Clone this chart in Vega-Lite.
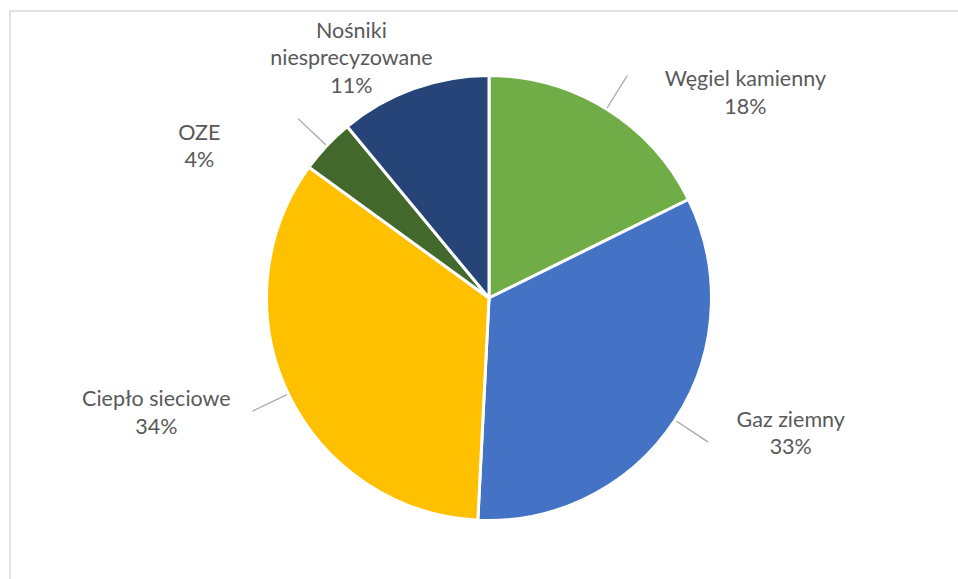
{
  "$schema": "https://vega.github.io/schema/vega-lite/v6.json",
  "width": 951,
  "height": 571,
  "padding": {"left": 10, "top": 11, "right": -3, "bottom": -3},
  "autosize": {"type": "none"},
  "background": "white",
  "view": {"stroke": "#D9D9D9", "strokeWidth": 1.5, "fill": "white"},
  "data": {
    "values": [
      {"category": "Węgiel kamienny", "share": 17.7, "rank": 1, "label": "Węgiel kamienny\n18%"},
      {"category": "Gaz ziemny", "share": 33.1, "rank": 2, "label": "Gaz ziemny\n33%"},
      {"category": "Ciepło sieciowe", "share": 34.2, "rank": 3, "label": "Ciepło sieciowe\n34%"},
      {"category": "OZE", "share": 4.0, "rank": 4, "label": "OZE\n4%"},
      {"category": "Nośniki niesprecyzowane", "share": 11.0, "rank": 5, "label": "Nośniki\nniesprecyzowane\n11%"}
    ]
  },
  "encoding": {
    "theta": {"field": "share", "type": "quantitative", "stack": true},
    "order": {"field": "rank", "type": "quantitative"},
    "detail": {"field": "category", "type": "nominal"}
  },
  "layer": [
    {
      "mark": {"type": "arc", "outerRadius": 222.5, "stroke": "white", "strokeWidth": 3, "xOffset": 3.5, "yOffset": 1.5},
      "encoding": {
        "color": {
          "field": "category",
          "type": "nominal",
          "scale": {
            "domain": ["Węgiel kamienny", "Gaz ziemny", "Ciepło sieciowe", "OZE", "Nośniki niesprecyzowane"],
            "range": ["#70AD47", "#4472C4", "#FFC000", "#43682B", "#264478"]
          },
          "legend": null
        }
      }
    },
    {
      "mark": {"type": "arc", "innerRadius": 224, "outerRadius": 262, "padAngle": 3.14, "filled": false, "stroke": "#A6A6A6", "strokeWidth": 1.3, "xOffset": 3.5, "yOffset": 1.5},
      "encoding": {
        "strokeOpacity": {"condition": {"test": "datum.category === 'Nośniki niesprecyzowane'", "value": 0}, "value": 1}
      }
    },
    {
      "mark": {"type": "text", "radius": 300, "dx": 98, "dy": 43, "align": "center", "baseline": "alphabetic", "font": "Lato", "fontSize": 21.5, "lineHeight": 27.5, "lineBreak": "\n", "fill": "#595959", "xOffset": 3.5, "yOffset": 1.5},
      "encoding": {"text": {"condition": {"test": "datum.category === 'Węgiel kamienny'", "field": "label", "type": "nominal"}, "value": ""}}
    },
    {
      "mark": {"type": "text", "radius": 300, "dx": 51, "dy": -36, "align": "center", "baseline": "alphabetic", "font": "Lato", "fontSize": 21.5, "lineHeight": 27.5, "lineBreak": "\n", "fill": "#595959", "xOffset": 3.5, "yOffset": 1.5},
      "encoding": {"text": {"condition": {"test": "datum.category === 'Gaz ziemny'", "field": "label", "type": "nominal"}, "value": ""}}
    },
    {
      "mark": {"type": "text", "radius": 300, "dx": -62, "dy": -21, "align": "center", "baseline": "alphabetic", "font": "Lato", "fontSize": 21.5, "lineHeight": 27.5, "lineBreak": "\n", "fill": "#595959", "xOffset": 3.5, "yOffset": 1.5},
      "encoding": {"text": {"condition": {"test": "datum.category === 'Ciepło sieciowe'", "field": "label", "type": "nominal"}, "value": ""}}
    },
    {
      "mark": {"type": "text", "radius": 300, "dx": -71, "dy": 47, "align": "center", "baseline": "alphabetic", "font": "Lato", "fontSize": 21.5, "lineHeight": 27.5, "lineBreak": "\n", "fill": "#595959", "xOffset": 3.5, "yOffset": 1.5},
      "encoding": {"text": {"condition": {"test": "datum.category === 'OZE'", "field": "label", "type": "nominal"}, "value": ""}}
    },
    {
      "mark": {"type": "text", "radius": 300, "dx": -36, "dy": 22, "align": "center", "baseline": "alphabetic", "font": "Lato", "fontSize": 21.5, "lineHeight": 27.5, "lineBreak": "\n", "fill": "#595959", "xOffset": 3.5, "yOffset": 1.5},
      "encoding": {"text": {"condition": {"test": "datum.category === 'Nośniki niesprecyzowane'", "field": "label", "type": "nominal"}, "value": ""}}
    }
  ]
}
